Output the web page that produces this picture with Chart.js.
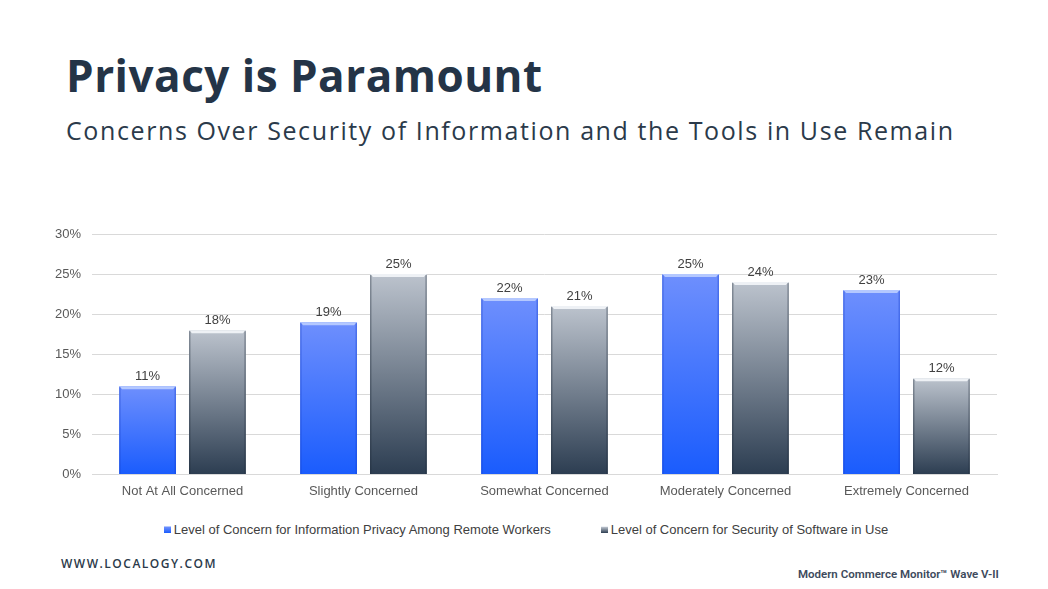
<!DOCTYPE html>
<html>
<head>
<meta charset="utf-8">
<script src="https://cdn.jsdelivr.net/npm/chart.js@4"></script>
<style>
  html, body { margin:0; padding:0; background:#fff; }
  body { width:1048px; height:589px; position:relative; overflow:hidden; font-family:"Open Sans", sans-serif; }
  #title    { position:absolute; left:66px; top:45px; font-size:44px; font-weight:700; color:#243447; letter-spacing:0.5px; white-space:nowrap; }
  #subtitle { position:absolute; left:66px; top:113px; font-size:25px; font-weight:400; color:#2b3a4a; letter-spacing:1.6px; white-space:nowrap; }
  #site     { position:absolute; left:61px; top:555px; font-size:12px; font-weight:600; color:#2b3a4a; letter-spacing:1.5px; }
  #source   { position:absolute; left:798px; top:567px; font-size:11.5px; font-weight:600; color:#3d4a5c; font-family:Roboto, sans-serif; white-space:nowrap; }
  #wrap     { position:absolute; left:0; top:200px; width:1048px; height:300px; }
  #legend   { position:absolute; left:0; top:522px; width:1052px; display:flex; justify-content:center; gap:50px;
              font-family:"Liberation Sans", Arial, sans-serif; font-size:13px; color:#404040; }
  #legend .item { display:flex; align-items:center; white-space:nowrap; }
  #legend .sw { width:7px; height:7px; margin-right:3px; }
</style>
</head>
<body>
<div id="title">Privacy is Paramount</div>
<div id="subtitle">Concerns Over Security of Information and the Tools in Use Remain</div>
<div id="wrap"><canvas id="chart"></canvas></div>
<div id="legend"></div>
<div id="site">WWW.LOCALOGY.COM</div>
<div id="source">Modern Commerce Monitor™ Wave V-II</div>

<script>
// ── DATA ──
const categories = ['Not At All Concerned', 'Slightly Concerned', 'Somewhat Concerned', 'Moderately Concerned', 'Extremely Concerned'];
const privacyValues  = [11, 19, 22, 25, 23];
const softwareValues = [18, 25, 21, 24, 12];
const yTicks = [0, 5, 10, 15, 20, 25, 30];

const seriesColors = [
  { top: '#6e8ffd', bottom: '#1a5cfd', hi: '#b4c8ff', side: 'rgba(20,60,200,0.35)' },
  { top: '#bcc3cd', bottom: '#2c3d51', hi: '#eef1f5', side: 'rgba(30,40,55,0.35)' }
];

// ── BAR GRADIENTS (per bar, top to bottom) ──
function barGradient(top, bottom) {
  return function (c) {
    const chart = c.chart;
    if (!chart.chartArea || !chart.scales.y) return bottom;
    const yScale = chart.scales.y;
    const g = chart.ctx.createLinearGradient(0, yScale.getPixelForValue(c.raw), 0, yScale.getPixelForValue(0));
    g.addColorStop(0, top);
    g.addColorStop(1, bottom);
    return g;
  };
}

// ── BEVEL + VALUE LABELS ──
const barExtras = {
  id: 'barExtras',
  afterDatasetsDraw(chart) {
    const ctx = chart.ctx;
    chart.data.datasets.forEach((ds, di) => {
      const col = seriesColors[di];
      chart.getDatasetMeta(di).data.forEach((bar, i) => {
        const left = bar.x - bar.width / 2;
        const right = bar.x + bar.width / 2;
        ctx.save();
        ctx.fillStyle = col.hi;
        ctx.beginPath();
        ctx.moveTo(left, bar.y);
        ctx.lineTo(right, bar.y);
        ctx.lineTo(right - 3, bar.y + 3);
        ctx.lineTo(left + 3, bar.y + 3);
        ctx.closePath();
        ctx.fill();
        ctx.fillStyle = col.side;
        ctx.fillRect(left, bar.y + 1, 1.5, bar.base - bar.y - 1);
        ctx.fillRect(right - 1.5, bar.y + 1, 1.5, bar.base - bar.y - 1);
        ctx.fillStyle = '#404040';
        ctx.font = '13px "Liberation Sans", Arial, sans-serif';
        ctx.textAlign = 'center';
        ctx.fillText(ds.data[i] + '%', bar.x, bar.y - 6);
        ctx.restore();
      });
    });
  }
};

// ── HTML LEGEND ──
const htmlLegend = {
  id: 'htmlLegend',
  afterUpdate(chart) {
    const box = document.getElementById('legend');
    box.innerHTML = '';
    chart.data.datasets.forEach((ds, di) => {
      const col = seriesColors[di];
      const item = document.createElement('div');
      item.className = 'item';
      const sw = document.createElement('span');
      sw.className = 'sw';
      sw.style.background = 'linear-gradient(' + col.top + ',' + col.bottom + ')';
      sw.style.borderTop = '1px solid ' + col.hi;
      sw.style.boxSizing = 'border-box';
      const txt = document.createElement('span');
      txt.textContent = ds.label;
      item.appendChild(sw);
      item.appendChild(txt);
      box.appendChild(item);
    });
  }
};

new Chart(document.getElementById('chart').getContext('2d'), {
  type: 'bar',
  data: {
    labels: categories,
    datasets: [
      {
        label: 'Level of Concern for Information Privacy Among Remote Workers',
        data: privacyValues,
        backgroundColor: barGradient(seriesColors[0].top, seriesColors[0].bottom),
        borderWidth: 0,
        categoryPercentage: 0.772,
        barPercentage: 0.814
      },
      {
        label: 'Level of Concern for Security of Software in Use',
        data: softwareValues,
        backgroundColor: barGradient(seriesColors[1].top, seriesColors[1].bottom),
        borderWidth: 0,
        categoryPercentage: 0.772,
        barPercentage: 0.814
      }
    ]
  },
  options: {
    responsive: true,
    maintainAspectRatio: false,
    animation: false,
    layout: { padding: { left: 0, right: 51, top: 34, bottom: 0 } },
    plugins: {
      tooltip: { enabled: false },
      legend: { display: false }
    },
    scales: {
      y: {
        min: 0,
        max: 30,
        afterFit(scale) { scale.width = 92; },
        afterBuildTicks(scale) { scale.ticks = yTicks.map(v => ({ value: v })); },
        border: { display: false },
        grid: { color: '#d9d9d9', drawTicks: false, lineWidth: 1 },
        ticks: {
          padding: 11,
          color: '#595959',
          font: { family: '"Liberation Sans", Arial, sans-serif', size: 13 },
          callback: v => v + '%'
        }
      },
      x: {
        border: { display: true, color: '#d9d9d9' },
        grid: { display: false },
        ticks: {
          padding: 1,
          color: '#595959',
          font: { family: '"Liberation Sans", Arial, sans-serif', size: 13 }
        }
      }
    }
  },
  plugins: [barExtras, htmlLegend]
});
</script>
</body>
</html>
